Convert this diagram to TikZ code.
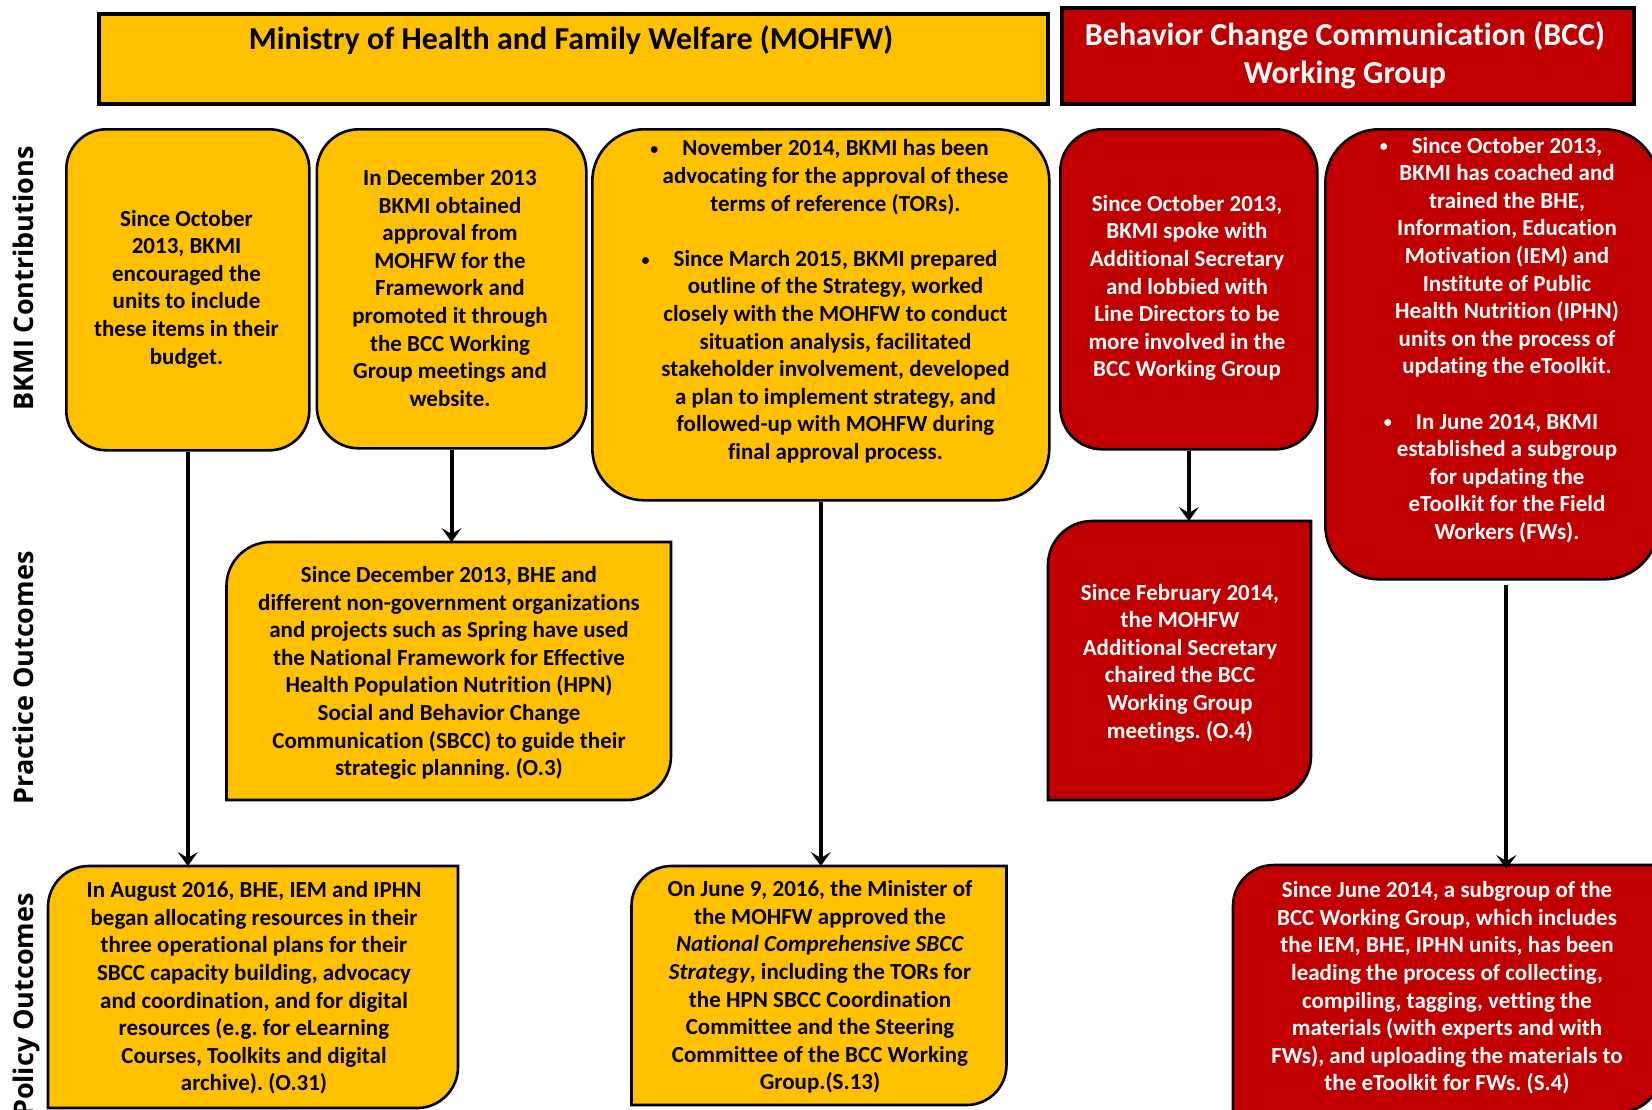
\documentclass[tikz,border=0pt]{standalone}
\usepackage{fontspec}
\setmainfont{Carlito}[Ligatures=NoCommon]
\newfontfamily\labfont{Open Sans}
\usetikzlibrary{arrows.meta,calc}
\definecolor{gold}{HTML}{FFC000}
\definecolor{dred}{HTML}{C00000}
\frenchspacing
\newcommand\diagfill[3]{%
  \path[#3] ([yshift=-#2]#1.north west) arc[start angle=180,end angle=90,radius=#2]
    -- (#1.north east) -- ([yshift=#2]#1.south east)
    arc[start angle=0,end angle=-90,radius=#2] -- (#1.south west) -- cycle;}
\newcommand\bul{\llap{\raisebox{0.6pt}{\fontsize{8}{8}\selectfont •}\hspace{12pt}}}
\tikzset{
  hdr/.style={draw=black, line width=2pt, inner sep=0, anchor=north west},
  rbox/.style={draw=black, line width=1.3pt, inner sep=0, anchor=north west, rounded corners=#1},
  frame/.style={inner sep=0, outer sep=0, anchor=north west},
  yfill/.style={fill=gold, draw=black, line width=1.3pt},
  rfill/.style={fill=dred, draw=black, line width=1.3pt},
  txt/.style={align=center, inner sep=0, font=\bfseries\fontsize{11.5}{13.8}\selectfont},
  wtxt/.style={txt, text=white},
  htxt/.style={align=center, inner sep=0, font=\bfseries\fontsize{16}{19}\selectfont},
  lab/.style={rotate=90, anchor=base, inner sep=0, font=\labfont\bfseries\fontsize{13.5}{16}\selectfont},
  arr/.style={line width=2pt, -{Stealth[length=7pt,width=10pt,inset=3pt]}},
}
\begin{document}
\begin{tikzpicture}[x=0.5pt,y=-0.5pt]
\useasboundingbox (0,0) rectangle (1652,1109);
\clip (0,0) rectangle (1652,1109);

% headers
\node[hdr, fill=gold, minimum width=474.5pt, minimum height=45pt] (H1) at (97,12) {};
\node[hdr, fill=dred, minimum width=286pt, minimum height=48pt] (H2) at (1060,6) {};
\node[htxt] (H1t) at (571,40) {Ministry of Health and Family Welfare (MOHFW)};
\node[htxt, text=white] (H2t) at (1345,55) {Behavior Change Communication (BCC)\\Working Group};

% row labels
\node[lab] (L1) at (33,278.5) {BKMI Contributions};
\node[lab] (L2) at (33,678) {Practice Outcomes};
\node[lab] (L3) at (33,1005) {Policy Outcomes};

% top row boxes
\node[rbox=20pt, fill=gold, minimum width=121.5pt, minimum height=160.5pt] (A) at (65,128) {};
\node[rbox=21pt, fill=gold, minimum width=134.75pt, minimum height=159.5pt] (B) at (315.5,128) {};
\node[rbox=26pt, fill=gold, minimum width=228.5pt, minimum height=185.5pt] (C) at (591,128) {};
\node[rbox=21pt, fill=dred, minimum width=128.5pt, minimum height=160pt] (D) at (1059,128) {};
\node[rbox=27pt, fill=dred, minimum width=166.5pt, minimum height=225pt] (E) at (1324,128) {};

% middle / bottom boxes (two rounded diagonal corners)
\node[frame, minimum width=222.25pt, minimum height=129pt] (F) at (226.5,542) {};
\node[frame, minimum width=131.5pt, minimum height=139.5pt] (G) at (1048,521) {};
\node[frame, minimum width=205pt, minimum height=121pt] (H) at (48,866) {};
\node[frame, minimum width=187.5pt, minimum height=119.5pt] (I) at (631.5,866) {};
\node[frame, minimum width=214pt, minimum height=123.5pt] (J) at (1233,865) {};
\diagfill{F}{22pt}{yfill}
\diagfill{G}{22pt}{rfill}
\diagfill{H}{20.5pt}{yfill}
\diagfill{I}{20pt}{yfill}
\diagfill{J}{20.5pt}{rfill}

% texts
\node[txt] (At) at (186.5,289) {Since October\\2013, BKMI\\encouraged the\\units to include\\these items in their\\budget.};
\node[txt] (Bt) at (450,288) {In December 2013\\BKMI obtained\\approval from\\MOHFW for the\\Framework and\\promoted it through\\the BCC Working\\Group meetings and\\website.};
\node[txt] (Ct) at (835.5,301.5) {\bul November 2014, BKMI has been\\advocating for the approval of these\\terms of reference (TORs).\\[13.8pt]\bul Since March 2015, BKMI prepared\\outline of the Strategy, worked\\closely with the MOHFW to conduct\\situation analysis, facilitated\\stakeholder involvement, developed\\a plan to implement strategy, and\\followed-up with MOHFW during\\final approval process.};
\node[wtxt] (Dt) at (1187,288) {Since October 2013,\\BKMI spoke with\\Additional Secretary\\and lobbied with\\Line Directors to be\\more involved in the\\BCC Working Group};
\node[wtxt] (Et) at (1507,340) {\bul Since October 2013,\\BKMI has coached and\\trained the BHE,\\Information, Education\\Motivation (IEM) and\\Institute of Public\\Health Nutrition (IPHN)\\units on the process of\\updating the eToolkit.\\[13.8pt]\bul In June 2014, BKMI\\established a subgroup\\for updating the\\eToolkit for the Field\\Workers (FWs).};
\node[txt] (Ft) at (449,673) {Since December 2013, BHE and\\different non-government organizations\\and projects such as Spring have used\\the National Framework for Effective\\Health Population Nutrition (HPN)\\Social and Behavior Change\\Communication (SBCC) to guide their\\strategic planning. (O.3)};
\node[wtxt] (Gt) at (1180,663) {Since February 2014,\\the MOHFW\\Additional Secretary\\chaired the BCC\\Working Group\\meetings. (O.4)};
\node[txt] (Ht) at (254,988) {In August 2016, BHE, IEM and IPHN\\began allocating resources in their\\three operational plans for their\\SBCC capacity building, advocacy\\and coordination, and for digital\\resources (e.g. for eLearning\\Courses, Toolkits and digital\\archive). (O.31)};
\node[txt] (It) at (820,987) {On June 9, 2016, the Minister of\\the MOHFW approved the\\\textit{National Comprehensive SBCC}\\\textit{Strategy}, including the TORs for\\the HPN SBCC Coordination\\Committee and the Steering\\Committee of the BCC Working\\Group.(S.13)};
\node[wtxt] (Jt) at (1447,988) {Since June 2014, a subgroup of the\\BCC Working Group, which includes\\the IEM, BHE, IPHN units, has been\\leading the process of collecting,\\compiling, tagging, vetting the\\materials (with experts and with\\FWs), and uploading the materials to\\the eToolkit for FWs. (S.4)};

% connectors
\draw[arr] (A.south) -- (A.south |- H.north);
\draw[arr] (B.south) -- (B.south |- F.north);
\draw[arr] (C.south) -- (C.south |- I.north);
\draw[arr] (D.south) -- (D.south |- G.north);
\draw[arr] ([xshift=7.25pt,yshift=-2pt]E.south) -- ([xshift=7.25pt,yshift=-2pt]E.south |- J.north);
\end{tikzpicture}
\end{document}
